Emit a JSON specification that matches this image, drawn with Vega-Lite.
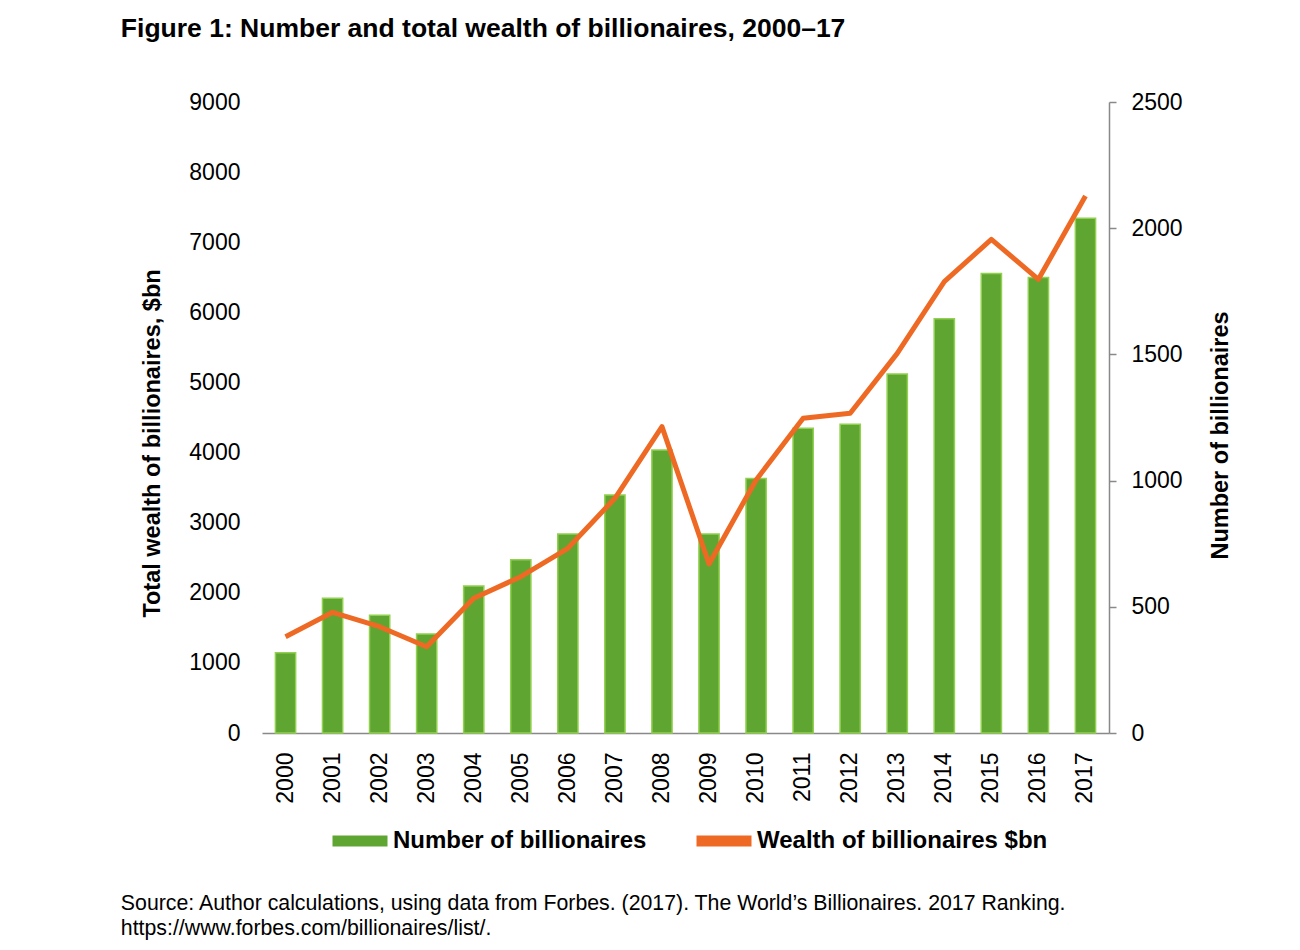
{
  "$schema": "https://vega.github.io/schema/vega-lite/v6.json",
  "background": "white",
  "padding": {"left": 120, "top": 15, "right": 10, "bottom": 5},
  "title": {
    "text": ["Source: Author calculations, using data from Forbes. (2017). The World’s Billionaires. 2017 Ranking.", "https://www.forbes.com/billionaires/list/."],
    "orient": "bottom",
    "anchor": "start",
    "font": "Liberation Sans",
    "fontSize": 21.3,
    "fontWeight": "normal",
    "color": "black",
    "lineHeight": 25,
    "offset": 30
  },
  "data": {
    "values": [
      {"year": "2000", "number": 318, "wealth": 1374},
      {"year": "2001", "number": 534, "wealth": 1722},
      {"year": "2002", "number": 467, "wealth": 1516},
      {"year": "2003", "number": 392, "wealth": 1231},
      {"year": "2004", "number": 582, "wealth": 1921},
      {"year": "2005", "number": 686, "wealth": 2230},
      {"year": "2006", "number": 788, "wealth": 2634},
      {"year": "2007", "number": 943, "wealth": 3348},
      {"year": "2008", "number": 1121, "wealth": 4369},
      {"year": "2009", "number": 788, "wealth": 2411},
      {"year": "2010", "number": 1008, "wealth": 3609},
      {"year": "2011", "number": 1207, "wealth": 4488},
      {"year": "2012", "number": 1223, "wealth": 4560},
      {"year": "2013", "number": 1422, "wealth": 5415},
      {"year": "2014", "number": 1641, "wealth": 6437},
      {"year": "2015", "number": 1821, "wealth": 7041},
      {"year": "2016", "number": 1805, "wealth": 6471},
      {"year": "2017", "number": 2039, "wealth": 7659}
    ]
  },
  "vconcat": [
    {
      "width": 847,
      "height": 631,
      "title": {
        "text": "Figure 1: Number and total wealth of billionaires, 2000–17",
        "anchor": "start",
        "font": "Liberation Sans",
        "fontSize": 26.5,
        "fontWeight": "bold",
        "color": "black",
        "offset": 49,
        "dx": -20
      },
      "layer": [
        {
          "mark": {"type": "bar", "stroke": "#92D050", "strokeWidth": 1.5},
          "encoding": {
            "x": {
              "field": "year",
              "type": "ordinal",
              "scale": {"paddingInner": 0.57, "paddingOuter": 0.285},
              "axis": {
                "title": null,
                "labelAngle": -90,
                "labelFontSize": 23,
                "labelPadding": 19,
                "ticks": false,
                "domain": true,
                "domainColor": "#898989",
                "domainWidth": 1.5
              }
            },
            "y": {
              "field": "number",
              "type": "quantitative",
              "scale": {"domain": [0, 2500], "nice": false},
              "axis": {
                "orient": "right",
                "values": [0, 500, 1000, 1500, 2000, 2500],
                "title": "Number of billionaires",
                "titleAngle": -90,
                "titleFontSize": 23.5,
                "titleFontWeight": "bold",
                "titlePadding": 50,
                "titleY": 333,
                "labelFontSize": 23,
                "labelPadding": 15,
                "domain": true,
                "domainColor": "#898989",
                "domainWidth": 1.5,
                "ticks": true,
                "tickSize": 7,
                "tickColor": "#898989",
                "tickWidth": 1.5,
                "grid": false
              }
            },
            "color": {
              "datum": "Number of billionaires",
              "scale": {
                "domain": ["Number of billionaires", "Wealth of billionaires $bn"],
                "range": ["#5FA532", "#EE6A24"]
              },
              "legend": {
                "orient": "none",
                "legendX": 65,
                "legendY": 706,
                "direction": "horizontal",
                "title": null,
                "labelFontSize": 24,
                "labelFontWeight": "bold",
                "labelColor": "black",
                "labelFont": "Liberation Sans",
                "labelLimit": 500,
                "symbolType": "stroke",
                "symbolSize": 3025,
                "symbolStrokeWidth": 11,
                "columnPadding": 27,
                "labelOffset": 0,
                "encode": {
                  "symbols": {
                    "update": {
                      "strokeWidth": {"signal": "datum.value === 'Number of billionaires' ? 11 : 5"},
                      "stroke": {"signal": "datum.value === 'Number of billionaires' ? '#5FA532' : '#EE6A24'"},
                      "strokeCap": {"signal": "datum.value === 'Number of billionaires' ? 'butt' : 'round'"},
                      "opacity": {"value": 1}
                    }
                  }
                }
              }
            }
          }
        },
        {
          "mark": {"type": "line", "strokeWidth": 5, "strokeJoin": "round", "strokeCap": "butt"},
          "encoding": {
            "x": {"field": "year", "type": "ordinal"},
            "y": {
              "field": "wealth",
              "type": "quantitative",
              "scale": {"domain": [0, 9000], "nice": false},
              "axis": {
                "orient": "left",
                "values": [0, 1000, 2000, 3000, 4000, 5000, 6000, 7000, 8000, 9000],
                "title": "Total wealth of billionaires, $bn",
                "titleFontSize": 23.5,
                "titleFontWeight": "bold",
                "titlePadding": 24,
                "titleY": 341,
                "labelFontSize": 23,
                "labelPadding": 22,
                "domain": false,
                "ticks": false,
                "grid": false
              }
            },
            "color": {"datum": "Wealth of billionaires $bn"}
          }
        }
      ],
      "resolve": {"scale": {"y": "independent"}}
    }
  ],
  "config": {
    "font": "Liberation Sans",
    "view": {"stroke": null},
    "axis": {"labelColor": "black", "titleColor": "black", "labelFont": "Liberation Sans", "titleFont": "Liberation Sans", "format": "d"}
  }
}
